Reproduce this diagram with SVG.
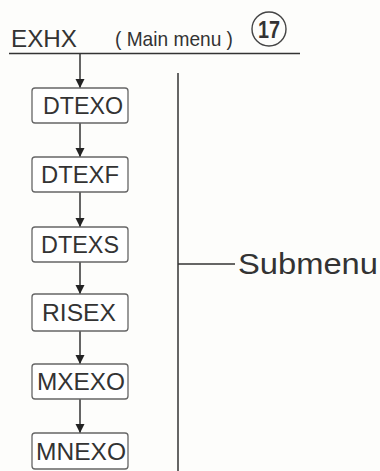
<svg xmlns="http://www.w3.org/2000/svg" width="380" height="471" viewBox="0 0 380 471">
<style>
.bg{fill:#fdfdfb}
.box{fill:#fff;stroke:#666;stroke-width:1.3}
.lbl{font-family:"Liberation Sans",Arial,sans-serif;font-size:24px;fill:#333;text-anchor:middle}
.ln{stroke:#333;stroke-width:1.5;fill:none}
.t{font-family:"Liberation Sans",Arial,sans-serif;fill:#333}
</style>
<defs>
<marker id="ah" viewBox="0 0 10 10" refX="10" refY="5" markerWidth="9" markerHeight="10" markerUnits="userSpaceOnUse" orient="auto">
<path d="M0,0 L10,5 L0,10 z" fill="#222"/>
</marker>
</defs>
<rect class="bg" x="0" y="0" width="380" height="471"/>
<g id="header">
<text class="t" x="11" y="47" font-size="24" textLength="66" lengthAdjust="spacingAndGlyphs">EXHX</text>
<text class="t" x="115" y="46" font-size="21" textLength="118" lengthAdjust="spacingAndGlyphs">( Main menu )</text>
<circle cx="269" cy="29" r="17" fill="none" stroke="#444" stroke-width="1.4"/>
<text class="t" x="269" y="38" font-size="24" font-weight="bold" text-anchor="middle" textLength="22" lengthAdjust="spacingAndGlyphs">17</text>
<line class="ln" x1="9" y1="53.5" x2="300" y2="53.5"/>
</g>
<g id="connectors">
<line class="ln" x1="80" y1="54" x2="80" y2="88" marker-end="url(#ah)"/>
<line class="ln" x1="80" y1="123" x2="80" y2="157" marker-end="url(#ah)"/>
<line class="ln" x1="80" y1="192" x2="80" y2="227" marker-end="url(#ah)"/>
<line class="ln" x1="80" y1="262" x2="80" y2="294" marker-end="url(#ah)"/>
<line class="ln" x1="80" y1="331" x2="80" y2="364" marker-end="url(#ah)"/>
<line class="ln" x1="80" y1="399" x2="80" y2="433" marker-end="url(#ah)"/>
<line class="ln" x1="178" y1="73" x2="178" y2="471"/>
<line class="ln" x1="178" y1="264" x2="235" y2="264"/>
</g>
<g id="DTEXO"><rect class="box" x="32" y="88" width="96" height="35" rx="3"/><text class="lbl" x="83" y="114" textLength="80" lengthAdjust="spacingAndGlyphs">DTEXO</text></g>
<g id="DTEXF"><rect class="box" x="32" y="157" width="96" height="35" rx="3"/><text class="lbl" x="80" y="183" textLength="78" lengthAdjust="spacingAndGlyphs">DTEXF</text></g>
<g id="DTEXS"><rect class="box" x="32" y="227" width="96" height="35" rx="3"/><text class="lbl" x="80" y="253" textLength="78" lengthAdjust="spacingAndGlyphs">DTEXS</text></g>
<g id="RISEX"><rect class="box" x="32" y="294" width="96" height="37" rx="3"/><text class="lbl" x="79" y="321" textLength="74" lengthAdjust="spacingAndGlyphs">RISEX</text></g>
<g id="MXEXO"><rect class="box" x="32" y="364" width="96" height="35" rx="3"/><text class="lbl" x="81" y="390" textLength="88" lengthAdjust="spacingAndGlyphs">MXEXO</text></g>
<g id="MNEXO"><rect class="box" x="32" y="433" width="96" height="36" rx="3"/><text class="lbl" x="81" y="460" textLength="90" lengthAdjust="spacingAndGlyphs">MNEXO</text></g>
<g id="submenu"><text class="t" x="238" y="274" font-size="30" textLength="140" lengthAdjust="spacingAndGlyphs">Submenu</text></g>
</svg>
